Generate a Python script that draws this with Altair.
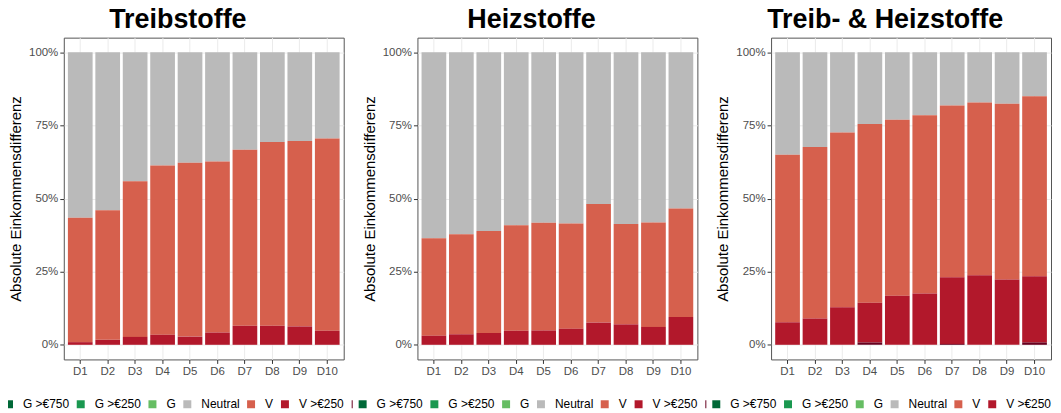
import altair as alt
import pandas as pd

deciles = ["D1", "D2", "D3", "D4", "D5", "D6", "D7", "D8", "D9", "D10"]
categories = ["G >€750", "G >€250", "G", "Neutral", "V", "V >€250", "V >€750"]
colors = ["#006837", "#1a9850", "#66bd63", "#bababa", "#d6604d", "#b2182b", "#67001f"]
panel_titles = ["Treibstoffe", "Heizstoffe", "Treib- & Heizstoffe"]

# shares in percent, per decile D1..D10
treib_g750 = [0, 0, 0, 0, 0, 0, 0, 0, 0, 0]
treib_g250 = [0, 0, 0, 0, 0, 0, 0, 0, 0, 0]
treib_g = [0, 0, 0, 0, 0, 0, 0, 0, 0, 0]
treib_neutral = [56.6, 54.0, 44.1, 38.7, 37.8, 37.3, 33.3, 30.7, 30.3, 29.5]
treib_v = [42.5, 44.3, 53.2, 57.9, 59.4, 58.5, 60.2, 62.8, 63.4, 65.7]
treib_v250 = [0.9, 1.7, 2.7, 3.4, 2.8, 4.2, 6.5, 6.5, 6.3, 4.8]
treib_v750 = [0, 0, 0, 0, 0, 0, 0, 0, 0, 0]

heiz_g750 = [0, 0, 0, 0, 0, 0, 0, 0, 0, 0]
heiz_g250 = [0, 0, 0, 0, 0, 0, 0, 0, 0, 0]
heiz_g = [0, 0, 0, 0, 0, 0, 0, 0, 0, 0]
heiz_neutral = [63.6, 62.2, 61.1, 59.1, 58.3, 58.5, 51.9, 58.7, 58.2, 53.4]
heiz_v = [33.3, 34.2, 34.9, 36.1, 36.8, 36.0, 40.5, 34.3, 35.7, 37.1]
heiz_v250 = [3.1, 3.6, 4.0, 4.8, 4.9, 5.5, 7.6, 7.0, 6.1, 9.5]
heiz_v750 = [0, 0, 0, 0, 0, 0, 0, 0, 0, 0]

beide_g750 = [0, 0, 0, 0, 0, 0, 0, 0, 0, 0]
beide_g250 = [0, 0, 0, 0, 0, 0, 0, 0, 0, 0]
beide_g = [0, 0, 0, 0, 0, 0, 0, 0, 0, 0]
beide_neutral = [35.0, 32.4, 27.4, 24.5, 23.1, 21.5, 18.2, 17.2, 17.6, 15.0]
beide_v = [57.3, 58.6, 59.8, 61.1, 60.1, 61.0, 58.7, 59.0, 60.1, 61.6]
beide_v250 = [7.7, 9.0, 12.8, 13.6, 16.8, 17.5, 22.8, 23.8, 22.3, 22.6]
beide_v750 = [0, 0, 0, 0.8, 0, 0, 0.3, 0, 0, 0.8]

panels = [
    [treib_g750, treib_g250, treib_g, treib_neutral, treib_v, treib_v250, treib_v750],
    [heiz_g750, heiz_g250, heiz_g, heiz_neutral, heiz_v, heiz_v250, heiz_v750],
    [beide_g750, beide_g250, beide_g, beide_neutral, beide_v, beide_v250, beide_v750],
]

FONT = "Liberation Sans"


def panel_df(series_list):
    rows = []
    for ci, (cat, vals) in enumerate(zip(categories, series_list)):
        for d, v in zip(deciles, vals):
            rows.append({"decile": d, "category": cat, "share": v / 100.0,
                         "stack_order": len(categories) - 1 - ci})
    return pd.DataFrame(rows)


def make_panel(series_list, title):
    df = panel_df(series_list)
    return alt.Chart(df).mark_bar().encode(
        x=alt.X("decile:N", sort=deciles,
                scale=alt.Scale(paddingInner=0.1, paddingOuter=0.15),
                axis=alt.Axis(title=None, labelAngle=0, bandPosition=0.5, grid=True,
                              gridColor="#ebebeb", gridWidth=1, domain=False,
                              tickColor="#333333", tickSize=4, labelPadding=2,
                              labelFontSize=11.5, labelColor="#4d4d4d", labelFont=FONT)),
        y=alt.Y("share:Q", stack="normalize",
                scale=alt.Scale(domain=[-0.05, 1.05], nice=False, zero=False),
                axis=alt.Axis(title="Absolute Einkommensdifferenz", values=[0, 0.25, 0.5, 0.75, 1],
                              format=".0%", grid=True, gridColor="#ebebeb", gridWidth=1,
                              domain=False, tickColor="#333333", tickSize=4, labelPadding=2,
                              labelFontSize=11.5, labelColor="#4d4d4d", labelFont=FONT,
                              titleFont=FONT, titleFontSize=15, titleFontWeight="normal",
                              titleColor="black", titlePadding=5)),
        color=alt.Color("category:N",
                        scale=alt.Scale(domain=categories, range=colors),
                        legend=alt.Legend(orient="none", legendX=-65, legendY=358,
                                          direction="horizontal", title=None,
                                          symbolType="square", symbolSize=64,
                                          symbolStrokeWidth=0, labelFontSize=12,
                                          labelFont=FONT, labelColor="black",
                                          labelOffset=8, columnPadding=5, padding=4,
                                          fillColor="white")),
        order=alt.Order("stack_order:Q"),
    ).properties(
        width=281, height=323,
        title=alt.Title(title, font=FONT, fontSize=27, fontWeight="bold", color="black",
                        anchor="middle", frame="group", dx=-26, dy=27,
                        baseline="alphabetic", offset=10),
    )


p1 = make_panel(panels[0], panel_titles[0])
p2 = make_panel(panels[1], panel_titles[1])
p3 = make_panel(panels[2], panel_titles[2])

chart = alt.hconcat(p1, p2, p3, spacing=74, bounds="flush").resolve_scale(
    color="independent"
).properties(
    padding={"left": -10, "top": -4, "right": -75, "bottom": -5}
).configure(font=FONT).configure_view(stroke="#555555", strokeWidth=1)

chart.save("out.html", embed_options={"renderer": "svg", "actions": False})
